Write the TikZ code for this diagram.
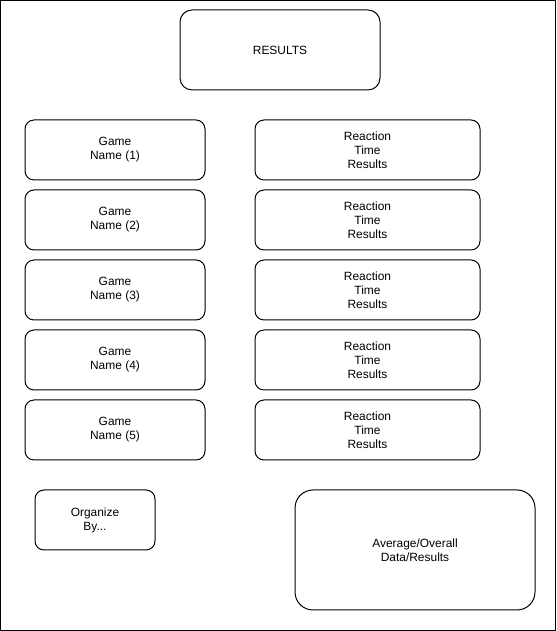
\documentclass[tikz,border=0pt]{standalone}
\usepackage{fontspec}
\setmainfont{Liberation Sans}
\begin{document}
\begin{tikzpicture}[
    box/.style={draw, line width=0.025cm, rounded corners=0.225cm, align=center, inner sep=0pt},
    gamebox/.style={box, minimum width=4.500000cm, minimum height=1.500000cm},
    timebox/.style={box, minimum width=5.625000cm, minimum height=1.500000cm}
  ]
                    \useasboundingbox (0,0) rectangle (13.900000,15.775000);
                    {\fontsize{8.5}{9.96}\selectfont

                    % Drawing outer frame
                    \draw [line width=0.025cm] (0.012500,0.012500) rectangle (13.887500,15.762500);%

                    % Marking box RESULTS
                    \node [box, rounded corners=0.300000cm, minimum width=5.000000cm, minimum height=2.000000cm] (results) at (7.000000,14.525000) {RESULTS};%

                    % Marking game boxes
                    \node [gamebox] (game1) at (2.875000,12.025000) {Game\\Name (1)};%
                    \node [gamebox] (game2) at (2.875000,10.275000) {Game\\Name (2)};%
                    \node [gamebox] (game3) at (2.875000,8.525000) {Game\\Name (3)};%
                    \node [gamebox] (game4) at (2.875000,6.775000) {Game\\Name (4)};%
                    \node [gamebox] (game5) at (2.875000,5.025000) {Game\\Name (5)};%

                    % Marking reaction time boxes
                    \node [timebox] (time1) at (9.187500,12.025000) {Reaction\\Time\\Results};%
                    \node [timebox] (time2) at (9.187500,10.275000) {Reaction\\Time\\Results};%
                    \node [timebox] (time3) at (9.187500,8.525000) {Reaction\\Time\\Results};%
                    \node [timebox] (time4) at (9.187500,6.775000) {Reaction\\Time\\Results};%
                    \node [timebox] (time5) at (9.187500,5.025000) {Reaction\\Time\\Results};%

                    % Marking box Organize By...
                    \node [box, minimum width=3.000000cm, minimum height=1.500000cm] (organize) at (2.375000,2.775000) {Organize\\By...};%

                    % Marking box Average/Overall
                    \node [box, rounded corners=0.450000cm, minimum width=6.000000cm, minimum height=3.000000cm] (average) at (10.375000,2.025000) {Average/Overall\\Data/Results};%
                    }
\end{tikzpicture}
\end{document}
